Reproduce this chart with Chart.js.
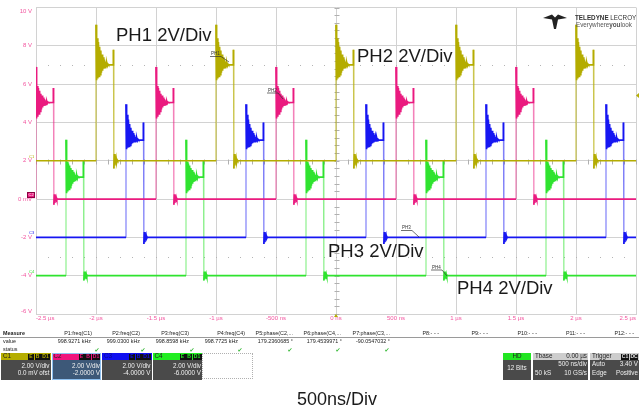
<!DOCTYPE html>
<html>
<head>
<meta charset="utf-8">
<script src="https://cdn.jsdelivr.net/npm/chart.js@4.4.1/dist/chart.umd.min.js"></script>
<style>
  body { margin: 0; background: #fff; font-family: 'Liberation Sans', Arial, sans-serif; }
  #wrap { position: relative; width: 639px; height: 412px; overflow: hidden; }
  #scope { position: absolute; left: 0; top: 0; }
  .t { position: absolute; white-space: nowrap; color: #222; }
  .b { position: absolute; box-sizing: border-box; }
</style>
</head>
<body>
<div id="wrap"><canvas id="scope" width="639" height="412"></canvas></div>
<script>
// time axis in ns, vertical axis in display volts (2 V/div)
const xTickValues = [-2500, -2000, -1500, -1000, -500, 0, 500, 1000, 1500, 2000, 2500];
const xTickLabels = ['-2.5 µs', '-2 µs', '-1.5 µs', '-1 µs', '-500 ns', '0 ns', '500 ns', '1 µs', '1.5 µs', '2 µs', '2.5 µs'];
const yTickValues = [-6, -4, -2, 0, 2, 4, 6, 8, 10];
const yTickLabels = ['-6 V', '-4 V', '-2 V', '0 mV', '2 V', '4 V', '6 V', '8 V', '10 V'];

// rising edge times (ns) of each phase
const c1Rises = [-2000, -1000, 0, 1000, 2000];
const c2Rises = [-2500, -1500, -500, 500, 1500];
const c3Rises = [-1750, -750, 250, 1250, 2250];
const c4Rises = [-2250, -1250, -250, 750, 1750];

const c1Low = 2.0, c1High = 7.0;
const c2Low = 0.0, c2High = 5.05;
const c3Low = -2.0, c3High = 3.08;
const c4Low = -4.0, c4High = 1.15;

const pulseWidth = 145;   // ns
const riseStep = 5;       // ns between ringing samples
const fallStep = 4;

// ringing (V), first value is the overshoot peak
const c1RiseRing = [9.1, 6.2, 8.4, 6.3, 8.2, 6.4, 7.95, 6.5, 7.75, 6.6, 7.55, 6.7, 7.4, 6.8, 7.28, 6.86, 7.18, 6.92, 7.1, 6.96, 7.04, 7.0];
const c2RiseRing = [6.9, 4.2, 5.9, 4.3, 5.8, 4.45, 5.65, 4.58, 5.5, 4.68, 5.4, 4.78, 5.3, 4.86, 5.22, 4.92, 5.16, 4.96, 5.1, 5.0, 5.06, 5.04];
const c3RiseRing = [4.95, 2.6, 4.4, 2.68, 4.15, 2.75, 3.92, 2.8, 3.72, 2.86, 3.56, 2.92, 3.44, 2.96, 3.34, 3.0, 3.25, 3.03, 3.18, 3.05, 3.12, 3.08];
const c4RiseRing = [3.1, 0.3, 1.95, 0.4, 1.85, 0.5, 1.75, 0.6, 1.62, 0.7, 1.52, 0.8, 1.42, 0.9, 1.34, 0.98, 1.27, 1.04, 1.22, 1.08, 1.18, 1.15];

const c1FallRing = [7.8, 1.6, 2.35, 1.75, 2.2, 1.85, 2.1, 1.93, 2.04, 2.0];
const c2FallRing = [5.8, -0.3, 0.25, -0.2, 0.15, -0.1, 0.07, -0.03, 0.0];
const c3FallRing = [4.0, -2.35, -1.72, -2.25, -1.82, -2.12, -1.92, -2.05, -2.0];
const c4FallRing = [2.0, -4.25, -3.78, -4.18, -3.85, -4.1, -3.93, -4.04, -4.0];

const measureHeads = ['P1:freq(C1)', 'P2:freq(C2)', 'P3:freq(C3)', 'P4:freq(C4)', 'P5:phase(C2,...', 'P6:phase(C4,...', 'P7:phase(C3,...', 'P8:- - -', 'P9:- - -', 'P10:- - -', 'P11:- - -', 'P12:- - -'];
const measureValues = ['998.9271 kHz', '999.0300 kHz', '998.8598 kHz', '998.7725 kHz', '179.2360685 °', '179.4539971 °', '-90.0547032 °'];
const channelNames = ['C1', 'C2', 'C3', 'C4'];
const channelScales = ['2.00 V/div', '2.00 V/div', '2.00 V/div', '2.00 V/div'];
const channelOffsets = ['0.0 mV ofst', '-2.0000 V', '-4.0000 V', '-6.0000 V'];

const traceColors = ['#b4ac00', '#ea1a7f', '#1616f2', '#2fe32f'];
const edgeColors = ['rgba(180,172,0,0.7)', 'rgba(234,26,127,0.55)', 'rgba(22,22,242,0.55)', 'rgba(47,227,47,0.55)'];
const pink = '#f2559f';
const gridColor = '#d2d2d2';
const font = "'Liberation Sans', Arial, sans-serif";

function buildTrace(rises, low, high, riseRing, fallRing) {
  const pts = [{x: -2500, y: low}];
  for (const r of rises) {
    pts.push({x: r, y: low});
    riseRing.forEach((v, i) => pts.push({x: r + i * riseStep, y: v}));
    const f = r + pulseWidth;
    pts.push({x: f - 1, y: high});
    fallRing.forEach((v, i) => pts.push({x: f + i * fallStep, y: v}));
    pts.push({x: f + fallRing.length * fallStep, y: low});
  }
  pts.push({x: 2500, y: low});
  return pts;
}

function trace(label, idx, data) {
  return {
    label,
    data,
    borderColor: traceColors[idx],
    borderWidth: 1.7,
    pointRadius: 0,
    tension: 0,
    segment: {
      borderColor: c => Math.abs(c.p1.parsed.y - c.p0.parsed.y) > 3.5 ? edgeColors[idx] : undefined,
      borderWidth: c => Math.abs(c.p1.parsed.y - c.p0.parsed.y) > 3.5 ? 1.2 : undefined
    }
  };
}

const scopeDecor = {
  id: 'scopeDecor',
  beforeDatasetsDraw(chart) {
    const {ctx, chartArea: a, scales: {x, y}} = chart;
    ctx.save();
    ctx.fillStyle = '#b4b4b4';
    for (const v of [7, -3]) {
      const py = Math.round(y.getPixelForValue(v));
      for (let px = a.left + 12; px < a.right; px += 12) ctx.fillRect(px, py, 1, 1);
    }
    // centre cross ticks
    ctx.strokeStyle = '#b0b0b0';
    ctx.lineWidth = 1;
    const cx = Math.round(x.getPixelForValue(0)) + 0.5;
    const cy = Math.round(y.getPixelForValue(2)) + 0.5;
    ctx.beginPath();
    const dy = (y.getPixelForValue(-6) - y.getPixelForValue(-4)) / 5;
    for (let py = a.top; py <= a.bottom + 0.1; py += Math.abs(dy)) {
      ctx.moveTo(cx - 2, Math.round(py) + 0.5); ctx.lineTo(cx + 3, Math.round(py) + 0.5);
    }
    for (let px = a.left; px <= a.right + 0.1; px += 12) {
      ctx.moveTo(Math.round(px) + 0.5, cy - 2); ctx.lineTo(Math.round(px) + 0.5, cy + 3);
    }
    ctx.stroke();
    ctx.restore();
  },
  afterDraw(chart) {
    const {ctx, chartArea: a, scales: {x, y}} = chart;
    ctx.save();
    // y tick labels
    ctx.font = `6px ${font}`;
    ctx.fillStyle = pink;
    ctx.textAlign = 'right';
    ctx.textBaseline = 'middle';
    yTickValues.forEach((v, i) => {
      let py = y.getPixelForValue(v);
      if (i === yTickValues.length - 1) py += 4;
      if (i === 0) py -= 3;
      ctx.fillText(yTickLabels[i], 32, py);
    });
    // channel ground tags
    const lows = [c1Low, c2Low, c3Low, c4Low];
    ctx.font = `4px ${font}`;
    ctx.textAlign = 'left';
    lows.forEach((v, i) => {
      const py = y.getPixelForValue(v);
      if (i === 1) {
        ctx.fillStyle = traceColors[1];
        ctx.fillRect(27, py - 7, 8, 6);
        ctx.strokeStyle = '#8a0040';
        ctx.strokeRect(27.5, py - 6.5, 7, 5);
        ctx.fillStyle = '#fff';
        ctx.fillText(channelNames[i], 28.5, py - 4);
      } else {
        ctx.fillStyle = traceColors[i];
        ctx.fillText(channelNames[i], 29, py - 4);
      }
    });
    // trigger markers
    ctx.fillStyle = traceColors[0];
    const ty = y.getPixelForValue(c1Low + 3.4);
    ctx.beginPath(); ctx.moveTo(a.right, ty); ctx.lineTo(a.right + 3, ty - 2.5); ctx.lineTo(a.right + 3, ty + 2.5); ctx.fill();
    const tx = x.getPixelForValue(0);
    ctx.beginPath(); ctx.moveTo(tx, a.bottom); ctx.lineTo(tx - 2, a.bottom + 3); ctx.lineTo(tx + 2, a.bottom + 3); ctx.fill();

    // phase labels
    ctx.fillStyle = '#1a1a1a';
    ctx.textBaseline = 'alphabetic';
    ctx.font = `18.5px ${font}`;
    ctx.fillText('PH1 2V/Div', 116, 41);
    ctx.fillText('PH2 2V/Div', 357, 62);
    ctx.fillText('PH3 2V/Div', 328, 257);
    ctx.fillText('PH4 2V/Div', 457, 294);

    // small probe tags with leader lines
    const tags = [['PH1', 211, 55, 229, 62], ['PH2', 268, 91.5, 283, 99], ['PH3', 402, 229, 419, 237], ['PH4', 432, 268.5, 447, 276]];
    ctx.font = `4.5px ${font}`;
    ctx.strokeStyle = '#333';
    ctx.lineWidth = 0.7;
    for (const [t, tx0, ty0, lx, ly] of tags) {
      ctx.fillStyle = '#333';
      ctx.fillText(t, tx0, ty0);
      ctx.beginPath();
      ctx.moveTo(tx0 - 1, ty0 + 1.5); ctx.lineTo(tx0 + 10, ty0 + 1.5); ctx.lineTo(lx, ly);
      ctx.stroke();
    }

    ctx.restore();
  }
};

new Chart(document.getElementById('scope'), {
  type: 'line',
  data: {
    datasets: [
      trace('C1', 0, buildTrace(c1Rises, c1Low, c1High, c1RiseRing, c1FallRing)),
      trace('C2', 1, buildTrace(c2Rises, c2Low, c2High, c2RiseRing, c2FallRing)),
      trace('C3', 2, buildTrace(c3Rises, c3Low, c3High, c3RiseRing, c3FallRing)),
      trace('C4', 3, buildTrace(c4Rises, c4Low, c4High, c4RiseRing, c4FallRing))
    ]
  },
  options: {
    responsive: false,
    animation: false,
    devicePixelRatio: 1,
    layout: {padding: {top: 7.5, right: 3, bottom: 84, left: 0}},
    plugins: {legend: {display: false}, tooltip: {enabled: false}},
    scales: {
      x: {
        type: 'linear',
        min: -2500,
        max: 2500,
        afterBuildTicks: s => { s.ticks = xTickValues.map(v => ({value: v})); },
        afterFit: s => { s.height = 14; },
        grid: {color: gridColor, drawTicks: false},
        border: {color: gridColor},
        ticks: {
          align: 'inner', padding: 1, maxRotation: 0, autoSkip: false,
          color: pink, font: {size: 6, family: font},
          callback: (v, i) => xTickLabels[i]
        }
      },
      y: {
        min: -6,
        max: 10,
        afterBuildTicks: s => { s.ticks = yTickValues.map(v => ({value: v})); },
        afterFit: s => { s.width = 36; },
        grid: {color: gridColor, drawTicks: false},
        border: {color: gridColor},
        ticks: {display: false}
      }
    }
  },
  plugins: [scopeDecor]
});

// ---- instrument panel below the grid ----
const wrap = document.getElementById('wrap');

function put(text, x, y, o = {}) {
  const el = document.createElement('div');
  el.className = 't';
  el.textContent = text;
  const size = o.size || 5.4;
  el.style.fontSize = size + 'px';
  el.style.lineHeight = size + 'px';
  el.style.top = (y - size / 2) + 'px';
  if (o.align === 'right') el.style.right = (639 - x) + 'px';
  else if (o.align === 'center') { el.style.left = x + 'px'; el.style.transform = 'translateX(-50%)'; }
  else el.style.left = x + 'px';
  if (o.color) el.style.color = o.color;
  if (o.bold) el.style.fontWeight = 'bold';
  if (o.family) el.style.fontFamily = o.family;
  wrap.appendChild(el);
  return el;
}

function box(x, y, w, h, css) {
  const el = document.createElement('div');
  el.className = 'b';
  el.style.cssText += `left:${x}px;top:${y}px;width:${w}px;height:${h}px;${css}`;
  wrap.appendChild(el);
  return el;
}

put('Measure', 3, 334, {bold: true});
put('value', 3, 342);
put('status', 3, 350);
box(0, 337, 639, 1, 'background:#9a9a9a;');

const headRight = [92, 140, 189, 245, 293, 341, 390, 439, 488, 537, 585, 634];
measureHeads.forEach((h, i) => put(h, headRight[i], 333.5, {align: 'right'}));
const valueRight = [91, 140, 189, 238, 293, 342, 390];
measureValues.forEach((v, i) => put(v, valueRight[i], 342, {align: 'right'}));
const checkX = [97, 143, 192, 240, 290, 338, 387];
checkX.forEach(cx => put('✔', cx, 350, {align: 'center', color: '#35b835', size: 6, family: 'DejaVu Sans'}));

// channel boxes
const chHeadColors = ['#b5ad00', '#f0147c', '#1010f0', '#22ee22'];
const chBodyColors = ['#4a4a4a', '#3d5878', '#4a4a4a', '#4a4a4a'];
const chLeft = [1, 51.5, 102, 152.5];
channelNames.forEach((n, i) => {
  const x0 = chLeft[i];
  box(x0, 353, 49.5, 7, `background:${chHeadColors[i]};`);
  box(x0, 360, 49.5, 20, `background:${chBodyColors[i]};`);
  put(n, x0 + 2, 356.5, {size: 6.3, color: i === 2 ? '#0a0a90' : '#222'});
  [['E', 27], ['B', 33.5], ['D1', 40]].forEach(([b, dx], k) => {
    const w = k === 2 ? 9 : 6;
    box(x0 + dx, 353.5, w, 6, 'background:#111;');
    put(b, x0 + dx + w / 2, 356.5, {size: 5, align: 'center', color: chHeadColors[i], bold: true});
  });
  put(channelScales[i], x0 + 48.5, 366, {size: 6.3, align: 'right', color: '#f0f0f0'});
  put(channelOffsets[i], x0 + 48.5, 373.5, {size: 6.3, align: 'right', color: '#f0f0f0'});
});
box(51.5, 353, 49.5, 27, 'border:1px solid #8ec0f0;');
box(202, 353, 51, 26, 'border:1px dotted #b0b0b0;');

// acquisition boxes
box(503, 353, 28, 6.5, 'background:#22e622;');
box(503, 359.5, 28, 20, 'background:#4a4a4a;');
put('HD', 517, 356.3, {size: 6.3, align: 'center'});
put('12 Bits', 517, 368, {size: 6.3, align: 'center', color: '#f0f0f0'});

box(533, 353, 55, 6.5, 'background:#cdcdcd;');
box(533, 359.5, 55, 20, 'background:#4a4a4a;');
put('Tbase', 535, 356.3, {size: 6.3});
put('0.00 µs', 587, 356.3, {size: 6.3, align: 'right'});
put('500 ns/div', 587, 364, {size: 6.3, align: 'right', color: '#f0f0f0'});
put('50 kS', 535, 373, {size: 6.3, color: '#f0f0f0'});
put('10 GS/s', 587, 373, {size: 6.3, align: 'right', color: '#f0f0f0'});

box(590, 353, 49, 6.5, 'background:#cdcdcd;');
box(590, 359.5, 49, 20, 'background:#4a4a4a;');
put('Trigger', 592, 356.3, {size: 6.3});
box(621, 353.5, 8, 6, 'background:#111;');
put('C1', 625, 356.5, {size: 5, align: 'center', color: '#e0e0e0', bold: true});
box(630, 353.5, 8, 6, 'background:#111;');
put('DC', 634, 356.5, {size: 5, align: 'center', color: '#e0e0e0', bold: true});
put('Auto', 592, 364, {size: 6.3, color: '#f0f0f0'});
put('3.40 V', 638, 364, {size: 6.3, align: 'right', color: '#f0f0f0'});
put('Edge', 592, 373, {size: 6.3, color: '#f0f0f0'});
put('Positive', 638, 373, {size: 6.3, align: 'right', color: '#f0f0f0'});

// brand mark
const logo = document.createElementNS('http://www.w3.org/2000/svg', 'svg');
logo.setAttribute('width', '24');
logo.setAttribute('height', '15');
logo.style.cssText = 'position:absolute;left:543px;top:14px;';
logo.innerHTML = '<polygon fill="#222" points="0,4 9,0.5 12,3.5 15,0.5 24,4 15,5.5 13,15 11,15 9,5.5"/>';
wrap.appendChild(logo);
const brand = put('', 575, 18, {size: 6.3, color: '#333'});
brand.innerHTML = '<b>TELEDYNE</b> LECROY';
const motto = put('', 576, 25.5, {size: 6.3, color: '#555'});
motto.innerHTML = 'Everywhere<b>you</b>look';

put('500ns/Div', 297, 399, {size: 18, color: '#1a1a1a'});
</script>
</body>
</html>
